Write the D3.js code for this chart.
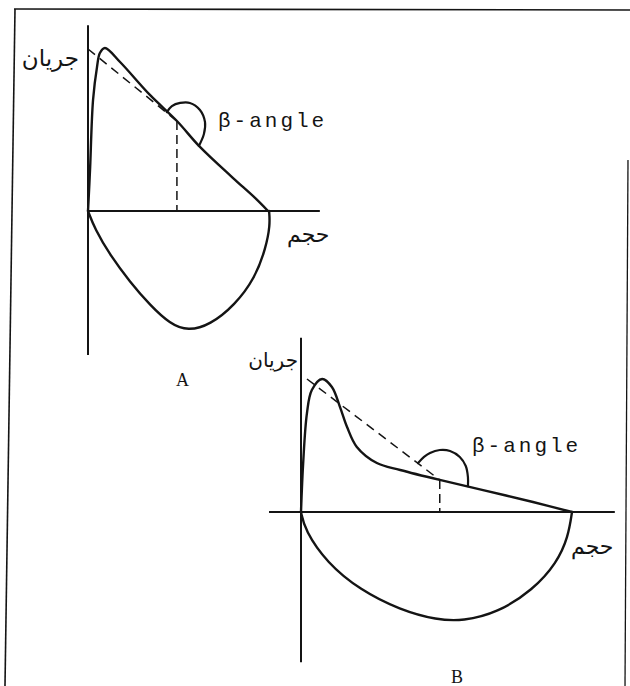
<!DOCTYPE html>
<html>
<head>
<meta charset="utf-8">
<script src="https://cdn.jsdelivr.net/npm/d3@7"></script>
<style>
  html, body { margin: 0; padding: 0; background: #fff; }
  svg { display: block; }
</style>
</head>
<body>
<script>
// Flow-volume loops, volume on x, flow on y (arbitrary units)

// panel A
const expA = [[0,0],[0.03,1.29],[0.06,2.7],[0.14,6.81],[0.25,8.83],[0.33,9.69],[0.47,10],
  [0.89,9.14],[1.72,7.12],[2.47,5.52],[3.11,3.93],[4.03,2.02],[4.64,0.8],[5,0]];
const inspA = [[0,0],[0.19,-1.1],[0.61,-2.7],[1.17,-4.36],[1.72,-5.77],[2.28,-6.93],[2.78,-7.36],
  [3.39,-6.99],[4.08,-5.77],[4.64,-4.11],[4.94,-2.27],[5.06,-0.86],[5.03,0]];
const slopeA = [[0,9.94],[2.47,5.52]];
const dropA = [[2.47,5.52],[2.47,0]];
const arcA = [[2.19,6.07],[2.33,6.44],[2.56,6.63],[2.83,6.63],[3.11,6.2],[3.25,5.46],[3.22,4.72],[3.08,3.99]];
const axisFlowA = [11.4, -8.83];
const axisVolA = [0, 6.44];

// panel B
const expB = [[0,0],[0.04,3.68],[0.11,7.44],[0.2,9.17],[0.39,10],[0.57,9.4],[0.72,7.89],[0.85,6.39],
  [1.03,4.89],[1.4,3.68],[1.83,3.16],[2.56,2.41],[3.36,1.65],[4.28,0.75],[5,0]];
const inspB = [[0,0],[0.07,-1.35],[0.48,-3.83],[1.09,-5.86],[1.83,-7.37],[2.51,-8.12],[2.99,-8.2],
  [3.62,-7.59],[4.28,-5.86],[4.72,-3.83],[4.93,-1.88],[5,0]];
const slopeB = [[0.11,10.0],[2.56,2.41]];
const dropB = [[2.56,2.41],[2.56,0]];
const arcB = [[2.16,3.68],[2.27,4.14],[2.38,4.44],[2.56,4.66],[2.75,4.59],[2.93,4.14],[3.04,3.46],[3.08,2.63],[3.08,1.95]];
const axisFlowB = [13.1, -11.3];
const axisVolB = [-0.59, 5.79];

// labels
const flowLabel = 'جريان';
const volLabel = 'حجم';
const angleLabel = 'β-angle';
const panelNames = ['A', 'B'];

const W = 630, H = 686;
const ink = '#141414';

const svg = d3.select('body').append('svg')
  .attr('width', W)
  .attr('height', H);

svg.append('rect').attr('width', W).attr('height', H).attr('fill', '#fff');

// scanned page frame
const frame = svg.append('g').attr('stroke', ink).attr('stroke-width', 1.6).attr('fill', 'none');
frame.append('line').attr('x1', 14).attr('y1', 9).attr('x2', 630).attr('y2', 10);
frame.append('line').attr('x1', 15).attr('y1', 9).attr('x2', 5).attr('y2', 686);
frame.append('line').attr('x1', 628).attr('y1', 160).attr('x2', 625).attr('y2', 686).attr('stroke-width', 1.3);

function drawPanel(p) {
  const x = d3.scaleLinear().domain([0, 5]).range(p.xr);
  const y = d3.scaleLinear().domain([0, 10]).range(p.yr);
  const g = svg.append('g');

  const smooth = d3.line().x(d => x(d[0])).y(d => y(d[1])).curve(d3.curveCatmullRom.alpha(0.5));
  const soft = d3.line().x(d => x(d[0])).y(d => y(d[1])).curve(d3.curveBasis);
  const straight = d3.line().x(d => x(d[0])).y(d => y(d[1]));

  // axes
  g.append('path')
    .attr('d', straight([[0, p.axisFlow[0]], [0, p.axisFlow[1]]]))
    .attr('stroke', ink).attr('stroke-width', 2).attr('fill', 'none');
  g.append('path')
    .attr('d', straight([[p.axisVol[0], 0], [p.axisVol[1], 0]]))
    .attr('stroke', ink).attr('stroke-width', 1.8).attr('fill', 'none');

  // loop
  g.append('path')
    .attr('d', smooth(p.exp))
    .attr('stroke', ink).attr('stroke-width', 2.4).attr('fill', 'none')
    .attr('stroke-linejoin', 'round').attr('stroke-linecap', 'round');
  g.append('path')
    .attr('d', soft(p.insp))
    .attr('stroke', ink).attr('stroke-width', 2.4).attr('fill', 'none')
    .attr('stroke-linejoin', 'round').attr('stroke-linecap', 'round');

  // slope line and drop to volume axis
  g.append('path')
    .attr('d', straight(p.slope))
    .attr('stroke', ink).attr('stroke-width', 1.5).attr('stroke-dasharray', '9,6').attr('fill', 'none');
  g.append('path')
    .attr('d', straight(p.drop))
    .attr('stroke', ink).attr('stroke-width', 1.5).attr('stroke-dasharray', '9,5').attr('fill', 'none');

  // angle arc
  g.append('path')
    .attr('d', smooth(p.arc))
    .attr('stroke', ink).attr('stroke-width', 2.2).attr('fill', 'none').attr('stroke-linecap', 'round');

  // labels
  g.append('text')
    .attr('x', p.flowPos[0]).attr('y', p.flowPos[1])
    .attr('text-anchor', 'end')
    .attr('font-family', 'DejaVu Sans, sans-serif').attr('font-size', p.flowSize)
    .attr('fill', ink).text(flowLabel);
  g.append('text')
    .attr('x', p.volPos[0]).attr('y', p.volPos[1])
    .attr('font-family', 'DejaVu Sans, sans-serif').attr('font-size', 22)
    .attr('fill', ink).text(volLabel);
  g.append('text')
    .attr('x', p.anglePos[0]).attr('y', p.anglePos[1])
    .attr('font-family', 'Liberation Mono, monospace').attr('font-size', 21)
    .attr('letter-spacing', 3)
    .attr('fill', ink).text(angleLabel);
  g.append('text')
    .attr('x', p.namePos[0]).attr('y', p.namePos[1])
    .attr('font-family', 'Liberation Serif, serif').attr('font-size', 18)
    .attr('fill', ink).text(p.name);
}

drawPanel({
  name: panelNames[0], xr: [88, 268], yr: [211, 48],
  exp: expA, insp: inspA, slope: slopeA, drop: dropA, arc: arcA,
  axisFlow: axisFlowA, axisVol: axisVolA, flowSize: 23,
  flowPos: [79, 66], volPos: [287, 242], anglePos: [218, 127], namePos: [176, 386]
});

drawPanel({
  name: panelNames[1], xr: [301, 572], yr: [512, 379],
  exp: expB, insp: inspB, slope: slopeB, drop: dropB, arc: arcB,
  axisFlow: axisFlowB, axisVol: axisVolB, flowSize: 20,
  flowPos: [298, 367], volPos: [571, 554], anglePos: [472, 452], namePos: [451, 683]
});
</script>
</body>
</html>
